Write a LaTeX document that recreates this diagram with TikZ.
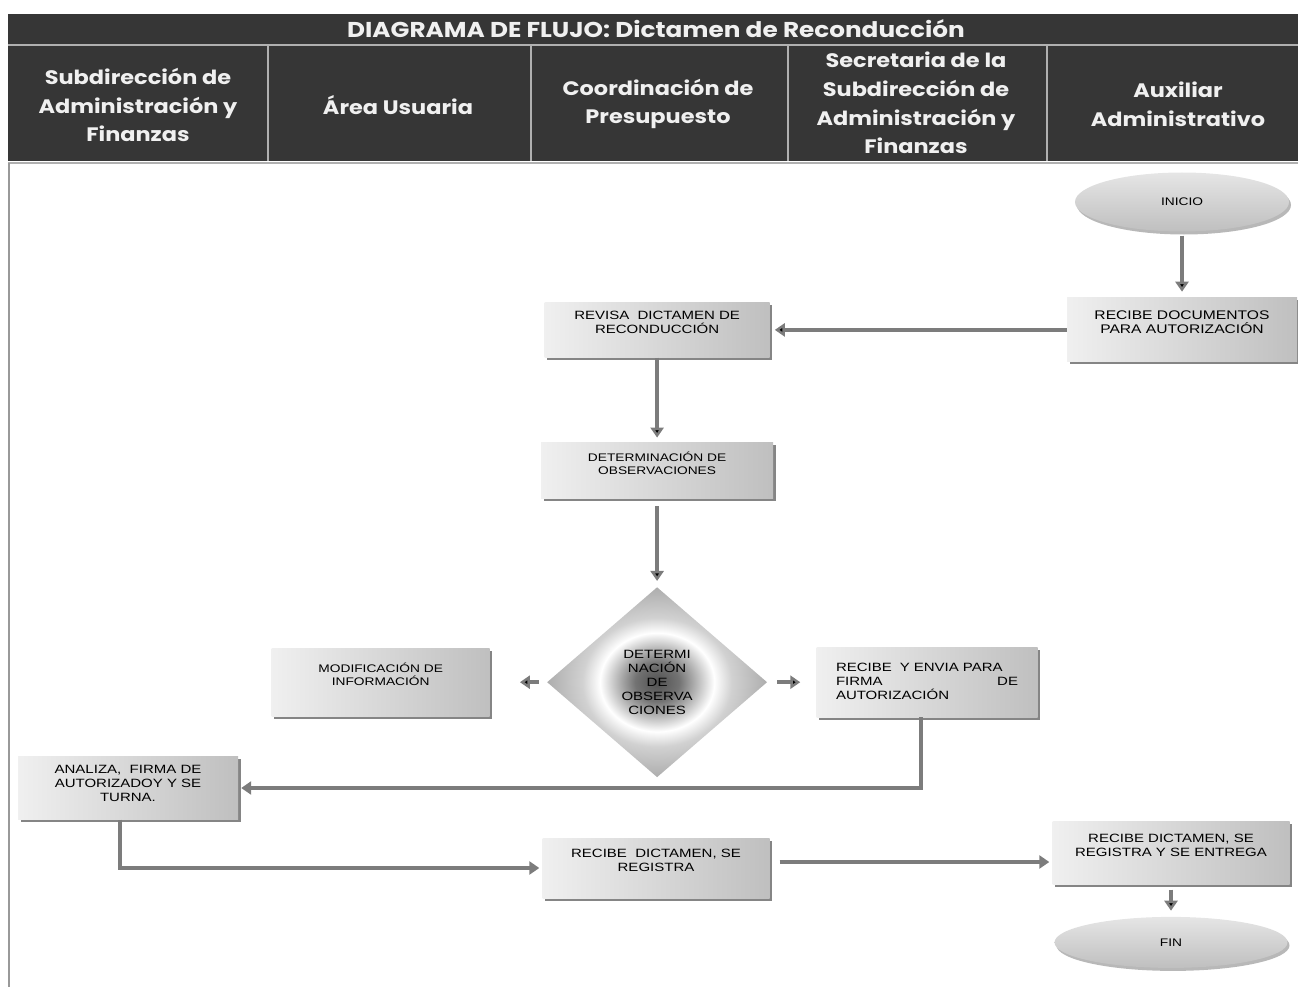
\documentclass[tikz,border=0pt]{standalone}
\usepackage{fontspec}
\setmainfont{Liberation Sans}[FakeStretch=1.25]
\newfontfamily\headfont{Poppins}[FakeStretch=1.15]
\usetikzlibrary{positioning, shapes.geometric, arrows.meta, shadows}

\definecolor{headgray}{HTML}{363636}
\definecolor{rulegray}{HTML}{B0B0B0}
\definecolor{flowgray}{HTML}{7C7C7C}

% dark core, white ring, grey rim (node box spans -25bp..25bp)
\pgfdeclareradialshading{decisionglow}{\pgfpoint{0bp}{0bp}}{%
  color(0bp)=(black!68); color(5bp)=(black!55); color(9bp)=(black!28);
  color(13bp)=(white); color(17bp)=(black!18); color(25bp)=(black!32); color(50bp)=(black!32)}

\tikzset{
  proc/.style={rectangle, left color=gray!12, right color=gray!50,
    drop shadow={shadow xshift=2.5pt, shadow yshift=-2.5pt, fill=gray!80!black, opacity=.8},
    font=\fontsize{12}{14}\selectfont, align=center, inner sep=0pt, text depth=16pt},
  term/.style={ellipse, top color=gray!20, bottom color=gray!50,
    drop shadow={shadow xshift=2pt, shadow yshift=-3pt, fill=gray!70, opacity=.8},
    font=\fontsize{11}{13}\selectfont, inner sep=0pt},
  decision/.style={diamond, shading=decisionglow, minimum width=220pt, minimum height=190pt,
    inner sep=0pt, align=center, font=\fontsize{12}{14}\selectfont},
  lane/.style={text=white!94!black, align=center,
    font=\headfont\bfseries\fontsize{19.5}{28.7}\selectfont},
  flow/.style={draw=flowgray, line width=4.5pt, -{Triangle[width=13pt,length=10pt]}},
}

\begin{document}
\begin{tikzpicture}[x=1pt, y=-1pt]
    \useasboundingbox (0,0) rectangle (1298,987);
    % header with the five lanes
    \fill[headgray] (8,14) rectangle (1298,161);
    \draw[rulegray, line width=1.3pt] (8,45) -- (1298,45);
    \foreach \x in {268,531,788,1047}
        \draw[rulegray, line width=1.3pt] (\x,45) -- (\x,161);
    \draw[rulegray, line width=1.5pt] (8,163) -- (1298,163);
    \draw[gray!80, line width=1.2pt] (9,163) -- (9,987);

    \node[lane, font=\headfont\bfseries\fontsize{21.5}{22}\selectfont] (title) at (656,29)
        {DIAGRAMA DE FLUJO: Dictamen de Reconducción};
    \node[lane] (subdir) at (138,105) {Subdirección de\\Administración y\\Finanzas};
    \node[lane] (usuaria) at (398,105) {Área Usuaria};
    \node[lane] (presup) at (658,104) {Coordinación de\\Presupuesto};
    \node[lane] (secret) at (916,103) {Secretaria de la\\Subdirección de\\Administración y\\Finanzas};
    \node[lane] (auxiliar) at (1178,104) {Auxiliar\\Administrativo};

    % flow nodes
    \node[term, minimum width=214pt, minimum height=59pt] (inicio) at (1182,202) {INICIO};
    \node[proc, minimum width=230pt, minimum height=64pt, below=66pt of inicio,
        font=\fontsize{12.5}{14}\selectfont] (recdoc) {RECIBE DOCUMENTOS\\PARA AUTORIZACIÓN};
    \node[proc, minimum width=225pt, minimum height=55pt, left=297pt of recdoc] (revisa)
        {REVISA\ \ DICTAMEN DE\\RECONDUCCIÓN};
    \node[proc, minimum width=232pt, minimum height=56pt, below=85pt of revisa,
        font=\fontsize{11}{13}\selectfont] (detobs) {DETERMINACIÓN DE\\OBSERVACIONES};
    \node[decision, below=88pt of detobs] (decide) {DETERMI\\NACIÓN\\DE\\OBSERVA\\CIONES};
    \node[proc, minimum width=218pt, minimum height=68pt, left=57pt of decide,
        font=\fontsize{11}{13}\selectfont] (modif) {MODIFICACIÓN DE\\INFORMACIÓN};
    \node[proc, minimum width=221pt, minimum height=70pt, right=49pt of decide,
        text width=182pt, align=left, text depth=30pt] (envia)
        {RECIBE\ \ Y ENVIA PARA\\FIRMA\hfill DE\\AUTORIZACIÓN};
    \node[proc, minimum width=220pt, minimum height=63pt, text depth=10pt] (analiza) at (128,788)
        {ANALIZA,\ \ FIRMA DE\\AUTORIZADOY Y SE\\TURNA.};
    \node[proc, minimum width=227pt, minimum height=60pt] (registra) at (656,868)
        {RECIBE\ \ DICTAMEN, SE\\REGISTRA};
    \node[proc, minimum width=237pt, minimum height=63pt] (entrega) at (1171,853)
        {RECIBE DICTAMEN, SE\\REGISTRA Y SE ENTREGA};
    \node[term, minimum width=233pt, minimum height=51pt, below=32pt of entrega] (fin) {FIN};

    % connectors
    \path[flow]
        (inicio) edge[shorten <=4pt, shorten >=6pt] (recdoc)
        (recdoc) edge[shorten >=5pt] (revisa)
        (revisa) edge[shorten >=5pt] (detobs)
        (detobs) edge[shorten <=7pt, shorten >=6pt] (decide)
        (decide) edge[shorten <=8pt, shorten >=30pt] (modif)
        (decide) edge[shorten <=10pt, shorten >=16pt] (envia)
        (entrega) edge[shorten <=5pt, shorten >=6pt] (fin);
    \draw[flow, shorten >=3pt] ([xshift=-6pt]envia.south) |- (analiza.east);
    \draw[flow, shorten >=3pt] ([xshift=-8pt]analiza.south) |- (registra.west);
    \coordinate (regout) at ([yshift=6pt]registra.east);
    \draw[flow, shorten <=10pt, shorten >=3pt] (regout) -- (regout -| entrega.west);
\end{tikzpicture}
\end{document}
